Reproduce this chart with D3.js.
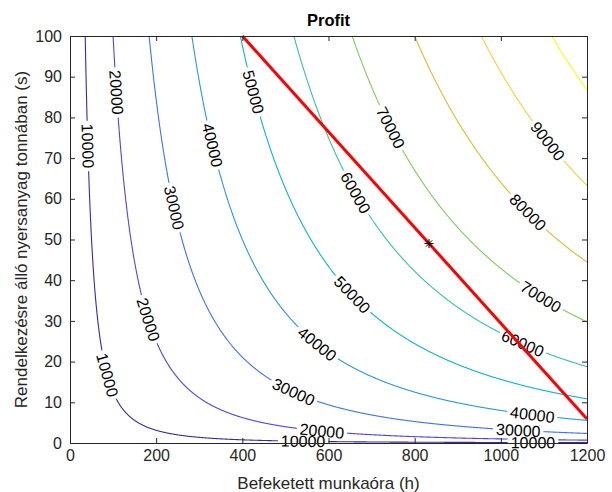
<!DOCTYPE html>
<html>
<head>
<meta charset="utf-8">
<script src="https://cdn.jsdelivr.net/npm/d3@7"></script>
<style>
    body { margin: 0; background: #fff; }
    svg { font-family: "Liberation Sans", Arial, sans-serif; }
</style>
</head>
<body>
<svg id="chart" width="612" height="492"></svg>
<script>
'use strict';

// profit = coef * h^expH * s^expS
const profitCoef = 200;
const profitExp = [2 / 3, 1 / 3];
const levels = [10000, 20000, 30000, 40000, 50000, 60000, 70000, 80000, 90000, 100000];
const hoursRange = [0, 1200];
const tonsRange = [0, 100];
const xTicks = [0, 200, 400, 600, 800, 1000, 1200];
const yTicks = [0, 10, 20, 30, 40, 50, 60, 70, 80, 90, 100];

// budget line (red) and optimum (star)
const budgetHours = [400, 1200];
const budgetTons = [100, 5.88];
const optimumPoint = [833.3, 49.0];

// where clabel put the numbers: [level, h, s]
const labelSpots = [
    [10000, 39.5, 73.0], [10000, 85.9, 16.7], [10000, 540.8, 0.74], [10000, 1074.7, 0.25],
    [20000, 104.4, 86.0], [20000, 178.7, 30.2], [20000, 584.9, 2.7],
    [30000, 239.1, 57.7], [30000, 517.6, 12.3], [30000, 1039.8, 2.7],
    [40000, 329.6, 73.2], [40000, 573.3, 24.3], [40000, 1072.3, 6.39],
    [50000, 422.4, 86.2], [50000, 654.5, 36.4],
    [60000, 661.5, 61.4], [60000, 1049.1, 24.1],
    [70000, 742.7, 77.4], [70000, 1090.9, 35.6],
    [80000, 1060.7, 56.5],
    [90000, 1107.2, 74.0]
];

// parula(10)
const parula = ['#3e26a8', '#4747eb', '#3e6fff', '#2796eb', '#08b5d0',
    '#31c6a0', '#80cc59', '#dcbd29', '#fccf30', '#f9fb0e'];

const axisColor = '#262626';
const margin = { left: 70, top: 36, right: 25, bottom: 49 };
const width = 612;
const height = 492;
const plotW = width - margin.left - margin.right;
const plotH = height - margin.top - margin.bottom;

const svg = d3.select('#chart');
const x = d3.scaleLinear().domain(hoursRange).range([0, plotW]);
const y = d3.scaleLinear().domain(tonsRange).range([plotH, 0]);

const root = svg.append('g').attr('transform', `translate(${margin.left},${margin.top})`);

// contour of one level, s as function of h
function contourPoints(level) {
    const [a, b] = profitExp;
    const sOf = h => Math.pow(level / (profitCoef * Math.pow(h, a)), 1 / b);
    const hTop = Math.pow(level / (profitCoef * Math.pow(tonsRange[1], b)), 1 / a);
    const n = 1500;
    const pts = [];
    for (let i = 0; i <= n; i++) {
        const h = hTop * Math.pow(hoursRange[1] / hTop, i / n);
        pts.push([h, sOf(h)]);
    }
    return pts;
}

const contours = levels.map((level, i) => ({
    level,
    color: parula[i],
    pts: contourPoints(level).map(p => [x(p[0]), y(p[1])])
}));

const defs = svg.append('defs');
const mask = defs.append('mask')
    .attr('id', 'label-gaps')
    .attr('maskUnits', 'userSpaceOnUse')
    .attr('x', -margin.left).attr('y', -margin.top)
    .attr('width', width).attr('height', height);
mask.append('rect')
    .attr('x', -margin.left).attr('y', -margin.top)
    .attr('width', width).attr('height', height)
    .attr('fill', '#fff');

const lineGroup = root.append('g').attr('mask', 'url(#label-gaps)');
lineGroup.selectAll('path.contour')
    .data(contours)
    .enter()
    .append('path')
    .attr('class', 'contour')
    .attr('d', d => d3.line()(d.pts))
    .attr('fill', 'none')
    .attr('stroke', d => d.color)
    .attr('stroke-width', 1.1);

// snap every label onto its contour and align with it
const labels = labelSpots.map(([level, h, s]) => {
    const c = contours[levels.indexOf(level)];
    const px = x(h);
    const py = y(s);
    let best = 0;
    let bestD = Infinity;
    c.pts.forEach((p, i) => {
        const d = (p[0] - px) ** 2 + (p[1] - py) ** 2;
        if (d < bestD) { bestD = d; best = i; }
    });
    const p0 = c.pts[Math.max(best - 8, 0)];
    const p1 = c.pts[Math.min(best + 8, c.pts.length - 1)];
    let angle = Math.atan2(p1[1] - p0[1], p1[0] - p0[0]) * 180 / Math.PI;
    if (angle > 90) angle -= 180;
    if (angle <= -90) angle += 180;
    return { level, x: c.pts[best][0], y: c.pts[best][1], angle };
});

const labelText = root.append('g').selectAll('text')
    .data(labels)
    .enter()
    .append('text')
    .attr('transform', d => `translate(${d.x},${d.y}) rotate(${d.angle})`)
    .attr('text-anchor', 'middle')
    .attr('dy', '0.35em')
    .attr('font-size', 16)
    .attr('fill', '#000')
    .text(d => d.level);

labelText.each(function (d) {
    const w = this.getComputedTextLength() + 6;
    mask.append('rect')
        .attr('transform', `translate(${d.x},${d.y}) rotate(${d.angle})`)
        .attr('x', -w / 2).attr('y', -7)
        .attr('width', w).attr('height', 14)
        .attr('fill', '#000');
});

// budget constraint
root.append('path')
    .attr('d', d3.line()(budgetHours.map((h, i) => [x(h), y(budgetTons[i])])))
    .attr('stroke', '#ff0000')
    .attr('stroke-width', 3)
    .attr('fill', 'none');

// optimum marker '*'
root.append('path')
    .attr('transform', `translate(${x(optimumPoint[0])},${y(optimumPoint[1])})`)
    .attr('d', 'M-4.5,0H4.5M0,-4.5V4.5M-3.2,-3.2L3.2,3.2M-3.2,3.2L3.2,-3.2')
    .attr('stroke', '#000')
    .attr('stroke-width', 1)
    .attr('fill', 'none');

// axes, ticks inside like MATLAB
const tickLen = 5;
const fmt = d3.format('d');
function styleAxis(g) {
    g.select('.domain').attr('stroke', axisColor);
    g.selectAll('.tick line').attr('stroke', axisColor);
    g.selectAll('.tick text').attr('fill', axisColor)
        .attr('font-size', 16)
        .attr('font-family', '"Liberation Sans", Arial, sans-serif');
}

root.append('g')
    .attr('transform', `translate(0,${plotH})`)
    .call(d3.axisBottom(x).tickValues(xTicks).tickFormat(fmt)
        .tickSizeInner(-tickLen).tickSizeOuter(0).tickPadding(7))
    .call(styleAxis);
root.append('g')
    .call(d3.axisTop(x).tickValues(xTicks).tickSizeInner(-tickLen).tickSizeOuter(0).tickFormat(''))
    .call(styleAxis);
root.append('g')
    .call(d3.axisLeft(y).tickValues(yTicks).tickFormat(fmt)
        .tickSizeInner(-tickLen).tickSizeOuter(0).tickPadding(8))
    .call(styleAxis);
root.append('g')
    .attr('transform', `translate(${plotW},0)`)
    .call(d3.axisRight(y).tickValues(yTicks).tickSizeInner(-tickLen).tickSizeOuter(0).tickFormat(''))
    .call(styleAxis);

// titles
svg.append('text')
    .attr('x', margin.left + plotW / 2)
    .attr('y', 26)
    .attr('text-anchor', 'middle')
    .attr('font-size', 16.5)
    .attr('font-weight', 'bold')
    .attr('fill', '#000')
    .text('Profit');

svg.append('text')
    .attr('x', margin.left + plotW / 2)
    .attr('y', 489)
    .attr('text-anchor', 'middle')
    .attr('font-size', 17)
    .attr('fill', axisColor)
    .text('Befeketett munkaóra (h)');

svg.append('text')
    .attr('transform', `translate(27,${margin.top + plotH / 2}) rotate(-90)`)
    .attr('text-anchor', 'middle')
    .attr('font-size', 17)
    .attr('fill', axisColor)
    .text('Rendelkezésre álló nyersanyag tonnában (s)');
</script>
</body>
</html>
